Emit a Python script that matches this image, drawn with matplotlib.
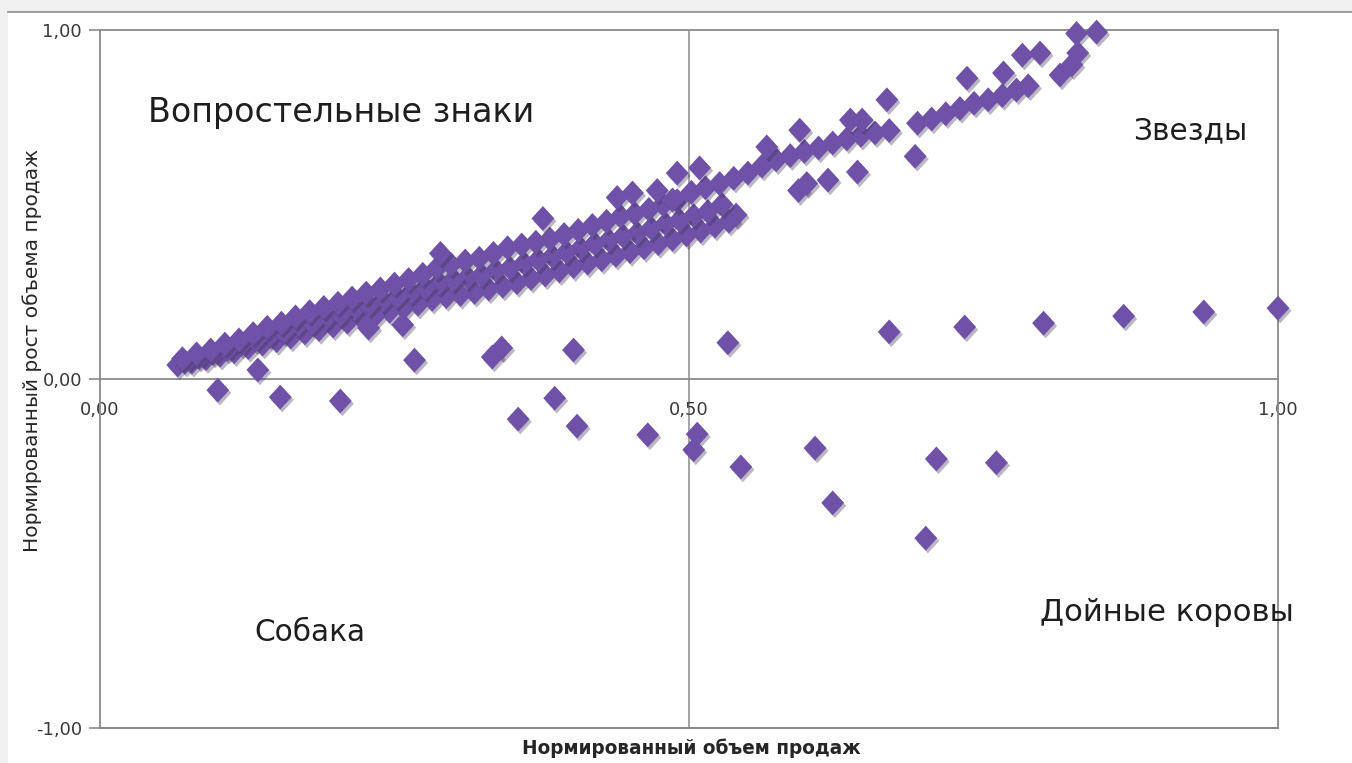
import matplotlib
matplotlib.use('Agg')
import matplotlib.pyplot as plt
import matplotlib.patheffects as pe
from matplotlib.patches import Rectangle
from matplotlib.lines import Line2D

# ---------------- data ----------------
band_lower_x = [.066, .078, .090, .102, .114, .126, .138, .150, .162, .174, .186, .198, .210, .222,
                .234, .246, .258, .270, .282, .294, .306, .318, .330, .342, .354, .366, .378, .390,
                .402, .414, .426, .438, .450, .462, .474, .486, .498, .510, .522, .534, .540]
band_lower_y = [.040, .048, .058, .068, .078, .090, .100, .110, .120, .132, .142, .152, .163, .175,
                .183, .194, .204, .214, .228, .236, .242, .248, .258, .266, .276, .288, .298, .310,
                .322, .332, .342, .354, .365, .376, .388, .400, .413, .424, .438, .452, .470]

band_mid_x = [.072, .096, .120, .144, .168, .192, .216, .240, .264, .288, .312, .336, .360, .384,
              .408, .432, .456, .480, .504, .528]
band_mid_y = [.048, .074, .100, .125, .155, .175, .200, .225, .248, .275, .292, .312, .332, .352,
              .375, .398, .418, .445, .468, .500]

band_mid2_x = [.084, .108, .132, .156, .180, .204, .228, .252, .276, .300, .324, .348, .372, .396,
               .420, .444, .468, .492, .516]
band_mid2_y = [.062, .085, .112, .135, .160, .185, .212, .235, .262, .285, .298, .318, .342, .364,
               .388, .410, .432, .455, .480]

band_upper_x = [.070, .082, .094, .106, .118, .130, .142, .154, .166, .178, .190, .202, .214, .226,
                .238, .250, .262, .274, .286, .298, .310, .322, .334, .346, .358, .370, .382, .394,
                .406, .418, .430, .442, .454, .466, .478, .490,
                .502, .514, .526, .538, .550, .562, .574, .586, .598, .610, .622, .634, .646, .658,
                .670, .694, .706, .718, .730, .742, .754, .766, .778, .788]
band_upper_y = [.058, .072, .083, .100, .112, .130, .148, .160, .178, .193, .205, .217, .232, .246,
                .258, .272, .285, .300, .318, .328, .338, .346, .360, .376, .384, .392, .401, .414,
                .426, .440, .452, .466, .474, .486, .500, .511,
                .535, .548, .560, .575, .590, .610, .628, .640, .652, .662, .676, .688, .698, .705,
                .712, .733, .745, .760, .775, .790, .800, .812, .828, .840]

scatter_pos_x = [.289, .376, .439, .452, .473, .486, .490, .509, .566, .594, .637, .647, .668, .736,
                 .767, .783, .798, .815, .825, .830, .829, .846,
                 .593, .600, .618, .643, .692,
                 .228, .257, .267, .134, .333, .341, .402, .533,
                 .670, .734, .801, .869, .937, 1.0]
scatter_pos_y = [.360, .460, .520, .533, .540, .513, .590, .605, .665, .713, .742, .742, .800, .862,
                 .877, .928, .934, .871, .900, .934, .990, .994,
                 .540, .560, .570, .593, .638,
                 .146, .155, .054, .026, .063, .089, .083, .104,
                 .135, .149, .160, .180, .192, .203]

scatter_neg_x = [.100, .153, .204, .355, .386, .405, .465, .507, .504, .544, .607, .622, .710, .701, .761]
scatter_neg_y = [-.032, -.052, -.063, -.115, -.055, -.135, -.160, -.158, -.203, -.252, -.198, -.355,
                 -.229, -.456, -.240]

x_ticks = [0.0, 0.5, 1.0]
x_tick_labels = ['0,00', '0,50', '1,00']
y_ticks = [-1.0, 0.0, 1.0]
y_tick_labels = ['-1,00', '0,00', '1,00']

x_title = 'Нормированный объем продаж'
y_title = 'Нормированный рост объема продаж'
quadrant_labels = ['Вопростельные знаки', 'Звезды', 'Собака', 'Дойные коровы']

# ---------------- figure ----------------
W, H = 1352, 763
fig = plt.figure(figsize=(W / 100, H / 100), dpi=100)
fig.patch.set_facecolor('white')

# outer window frame (light grey strip at top and left)
fig.patches.append(Rectangle((0, 1 - 12 / H), 1, 12 / H, transform=fig.transFigure,
                             facecolor='#f0f0f0', edgecolor='none', zorder=0))
fig.patches.append(Rectangle((0, 0), 8 / W, 1, transform=fig.transFigure,
                             facecolor='#f0f0f0', edgecolor='none', zorder=0))
fig.lines.append(Line2D([8 / W, 1], [1 - 12 / H, 1 - 12 / H], transform=fig.transFigure,
                        color='#8c8c8c', lw=1.2))

ax = fig.add_axes([100 / W, (H - 728) / H, 1178 / W, 698 / H])
ax.set_xlim(0, 1)
ax.set_ylim(-1, 1)
ax.set_facecolor('white')

frame_col = '#8a8a8a'
for s in ['left', 'top', 'right']:
    ax.spines[s].set_color(frame_col)
    ax.spines[s].set_linewidth(1.3)
ax.spines['bottom'].set_position(('data', 0))
ax.spines['bottom'].set_color(frame_col)
ax.spines['bottom'].set_linewidth(1.3)
ax.axhline(-1, color=frame_col, lw=1.5, clip_on=False, zorder=1)
ax.axvline(0.5, color=frame_col, lw=1.1, zorder=1)

ax.set_xticks(x_ticks)
ax.set_xticklabels(x_tick_labels)
ax.set_yticks(y_ticks)
ax.set_yticklabels(y_tick_labels)
ax.tick_params(axis='x', length=0, pad=16, labelsize=13, labelcolor='#3a3a3a')
ax.tick_params(axis='y', length=8, width=1.2, color=frame_col, pad=5, labelsize=13,
               labelcolor='#3a3a3a')

diamond = [(0, 1), (0.92, 0), (0, -1), (-0.92, 0), (0, 1)]
purple = '#6f51a7'
shadow = [pe.SimplePatchShadow(offset=(1.5, -2), shadow_rgbFace='#3a3050', alpha=0.35), pe.Normal()]
for xs, ys in [(band_lower_x, band_lower_y), (band_mid_x, band_mid_y),
               (band_mid2_x, band_mid2_y),
               (band_upper_x, band_upper_y), (scatter_pos_x, scatter_pos_y),
               (scatter_neg_x, scatter_neg_y)]:
    sc = ax.scatter(xs, ys, marker=diamond, s=320, color=purple, edgecolors='none',
                    zorder=3, clip_on=False)
    sc.set_path_effects(shadow)

# ---------------- texts ----------------
renderer = fig.canvas.get_renderer()


def fit(t, target, vertical=False):
    bb = t.get_window_extent(renderer)
    cur = bb.height if vertical else bb.width
    t.set_fontsize(t.get_fontsize() * target / cur)


def fx(px):
    return px / W


def fy(py):
    return 1 - py / H


t = fig.text(fx(691), fy(748), x_title, ha='center', va='center', fontweight='bold',
             fontsize=13, color='#262626')
fit(t, 338)
t = fig.text(fx(32), fy(350), y_title, ha='center', va='center', rotation=90,
             fontsize=13, color='#262626')
fit(t, 400, vertical=True)

qcol = '#1e1e1e'
t = fig.text(fx(148), fy(122), quadrant_labels[0], ha='left', va='baseline', fontsize=22, color=qcol)
fit(t, 385)
t = fig.text(fx(1133), fy(139), quadrant_labels[1], ha='left', va='baseline', fontsize=22, color=qcol)
fit(t, 114)
t = fig.text(fx(254), fy(641), quadrant_labels[2], ha='left', va='baseline', fontsize=22, color=qcol)
fit(t, 111)
t = fig.text(fx(1040), fy(621), quadrant_labels[3], ha='left', va='baseline', fontsize=22, color=qcol)
fit(t, 253)

fig.savefig('out.png', dpi=100, facecolor=fig.get_facecolor())
